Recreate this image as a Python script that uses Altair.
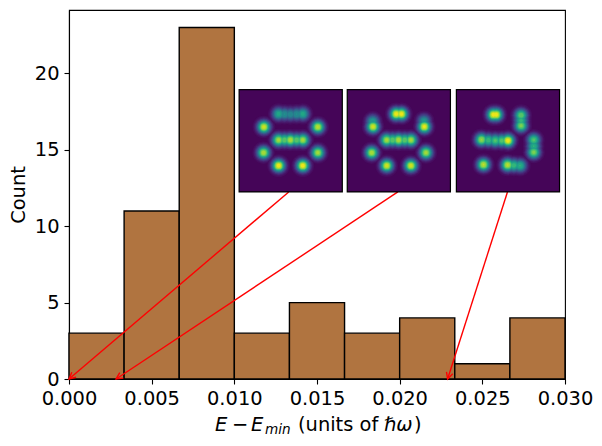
import math

import altair as alt
import pandas as pd

# histogram
bin_edges = [i * 0.03 / 9 for i in range(10)]
counts = [3, 11, 23, 3, 5, 3, 4, 1, 4]

# energies the insets point at, and where each arrow leaves its inset (axes fraction)
arrow_tips = [0.0, 0.00285, 0.0229]
arrow_tails = [0.443, 0.663, 0.884]

# bright spots of each density image: column, row (0-100 across the image), peak
spots_a = [
    (38.3, 23.7, 0.62), (44.0, 23.9, 0.52), (49.7, 24.1, 0.50), (55.7, 23.9, 0.52), (61.7, 23.7, 0.62),
    (24.0, 36.5, 0.95), (76.3, 36.5, 0.92),
    (38.3, 49.2, 0.88), (44.0, 49.2, 0.78), (49.7, 49.2, 0.90), (55.7, 49.2, 0.78), (61.7, 49.2, 0.88),
    (23.7, 61.6, 0.90), (76.3, 61.6, 0.88),
    (38.3, 74.3, 1.0), (61.7, 74.3, 1.0),
]
spots_b = [
    (47.5, 23.7, 1.0), (52.5, 23.7, 1.0),
    (24.7, 31.0, 0.58), (25.0, 36.2, 0.95), (74.4, 30.6, 0.55), (74.7, 36.2, 0.98),
    (38.3, 49.2, 0.88), (44.0, 49.2, 0.78), (49.7, 49.2, 0.90), (55.7, 49.2, 0.78), (61.7, 49.2, 0.88),
    (23.7, 61.6, 0.90), (76.3, 61.6, 0.88),
    (38.3, 74.3, 0.95), (61.7, 74.3, 0.95),
]
spots_c = [
    (36.0, 24.4, 1.0), (38.6, 24.4, 1.0),
    (62.7, 25.1, 0.78), (62.7, 30.2, 0.68), (62.7, 35.2, 0.82),
    (24.4, 48.9, 0.86), (31.0, 49.4, 0.70), (37.7, 49.8, 0.74), (44.0, 49.8, 0.76), (50.0, 49.8, 1.0),
    (75.0, 49.2, 0.74), (75.0, 55.2, 0.66), (75.0, 61.2, 0.82),
    (26.3, 73.3, 0.92),
    (49.7, 73.6, 0.92), (55.7, 74.0, 0.70), (61.7, 74.3, 0.66),
]
all_spots = [spots_a, spots_b, spots_c]

# colour steps of the images
levels = [0.03, 0.06, 0.1, 0.14, 0.19, 0.25, 0.31, 0.38, 0.45, 0.52, 0.59, 0.66,
          0.73, 0.8, 0.86, 0.92, 0.97]

# x-axis label pieces
label_pieces = ["E", "−", "E", "min", "(units of", "ℏω", ")"]

X_MAX = 0.03
Y_MAX = 24.15
W = 496
H = 369

# inset placement in axes fractions
inset_left = [0.343, 0.561, 0.781]
inset_bottom = 0.507
inset_w = 0.208
inset_h = 0.277
SPOT_SIGMA = 4.0

x_axis = alt.Axis(values=[0, 0.005, 0.01, 0.015, 0.02, 0.025, 0.03], format=".3f", title=None)
y_axis = alt.Axis(values=[0, 5, 10, 15, 20], title="Count")
x_scale = alt.Scale(domain=[0, X_MAX], nice=False, zero=False)
y_scale = alt.Scale(domain=[0, Y_MAX], nice=False)


def fx(frac):
    return frac * X_MAX


def fy(frac):
    return frac * Y_MAX


def enc_x(field):
    return alt.X(field, scale=x_scale, axis=x_axis)


def enc_y(field):
    return alt.Y(field, scale=y_scale, axis=y_axis)


hist = pd.DataFrame(
    {"left": bin_edges[:-1], "right": bin_edges[1:], "count": counts, "base": 0}
)
bars = alt.Chart(hist).mark_rect(color="#b07440", stroke="black", strokeWidth=1.4).encode(
    x=enc_x("left:Q"),
    x2="right:Q",
    y=enc_y("count:Q"),
    y2="base:Q",
)

# arrows
arrow_rows = []
for tip, tail in zip(arrow_tips, arrow_tails):
    dx = (tip / X_MAX - tail) * W
    dy = inset_bottom * H
    angle = math.degrees(math.atan2(dx, -dy)) % 360
    arrow_rows.append(
        {"x": tip, "y": 0, "x_tail": fx(tail), "y_tail": fy(inset_bottom), "angle": angle}
    )
arrows = pd.DataFrame(arrow_rows)

arrow_lines = alt.Chart(arrows).mark_rule(color="red", strokeWidth=1.4).encode(
    x=enc_x("x:Q"),
    x2="x_tail:Q",
    y=enc_y("y:Q"),
    y2="y_tail:Q",
)
arrow_heads = alt.Chart(arrows).mark_point(
    shape="M-0.5,1L0,0L0.5,1", color="red", filled=False, strokeWidth=1.4, size=170, opacity=1
).encode(
    x=enc_x("x:Q"),
    y=enc_y("y:Q"),
    angle=alt.Angle("angle:Q", scale=None),
)

# inset frames
frames = pd.DataFrame(
    {
        "x": [fx(v) for v in inset_left],
        "x2": [fx(v + inset_w) for v in inset_left],
        "y": fy(inset_bottom),
        "y2": fy(inset_bottom + inset_h),
    }
)
inset_back = alt.Chart(frames).mark_rect(color="#450558", stroke="black", strokeWidth=1.2).encode(
    x=enc_x("x:Q"),
    x2="x2:Q",
    y=enc_y("y:Q"),
    y2="y2:Q",
)

# each spot is a stack of circles, one per colour step below its peak
rows = []
for left, spots in zip(inset_left, all_spots):
    for col, row, peak in spots:
        for level in levels:
            if level > peak:
                continue
            r = SPOT_SIGMA * math.sqrt(2 * math.log(peak / level)) + 0.8
            rows.append(
                {
                    "x": fx(left + inset_w * col / 100),
                    "y": fy(inset_bottom + inset_h * (1 - row / 100)),
                    "level": level,
                    "area": (2 * r) ** 2,
                }
            )
rings = pd.DataFrame(rows).sort_values("level")
inset_spots = alt.Chart(rings).mark_circle(opacity=1).encode(
    x=enc_x("x:Q"),
    y=enc_y("y:Q"),
    size=alt.Size("area:Q", scale=None, legend=None),
    color=alt.Color("level:Q", scale=alt.Scale(scheme="viridis", domain=[0, 1]), legend=None),
    order=alt.Order("level:Q"),
)


def label_text(text, x_px, size=19.44, style="normal", y_px=421):
    return alt.Chart(pd.DataFrame({"t": [text]})).mark_text(
        align="left", baseline="alphabetic", fontSize=size, fontStyle=style, color="black"
    ).encode(text="t:N", x=alt.value(x_px), y=alt.value(y_px))


x_label = (
    label_text(label_pieces[0], 146, style="italic")
    + label_text(label_pieces[1], 163)
    + label_text(label_pieces[2], 182, style="italic")
    + label_text(label_pieces[3], 196, size=13.6, style="italic", y_px=424)
    + label_text(label_pieces[4], 229)
    + label_text(label_pieces[5], 315, style="italic")
    + label_text(label_pieces[6], 345)
)

chart = (
    alt.layer(bars, arrow_lines, arrow_heads, inset_back, inset_spots, x_label)
    .properties(
        width=W,
        height=H,
        padding={"left": 0, "top": 2, "right": 0, "bottom": 0},
    )
    .configure(font="DejaVu Sans")
    .configure_view(stroke="black", strokeWidth=1.1)
    .configure_axis(
        grid=False,
        domainColor="black",
        domainWidth=1.1,
        tickColor="black",
        tickSize=5,
        tickWidth=1.1,
        labelColor="black",
        titleColor="black",
        labelFontSize=19.44,
        titleFontSize=19.44,
        titleFontWeight="normal",
        labelPadding=5,
        titlePadding=6,
        labelFlush=False,
    )
)

chart.save("out.html", embed_options={"renderer": "svg", "actions": False})
